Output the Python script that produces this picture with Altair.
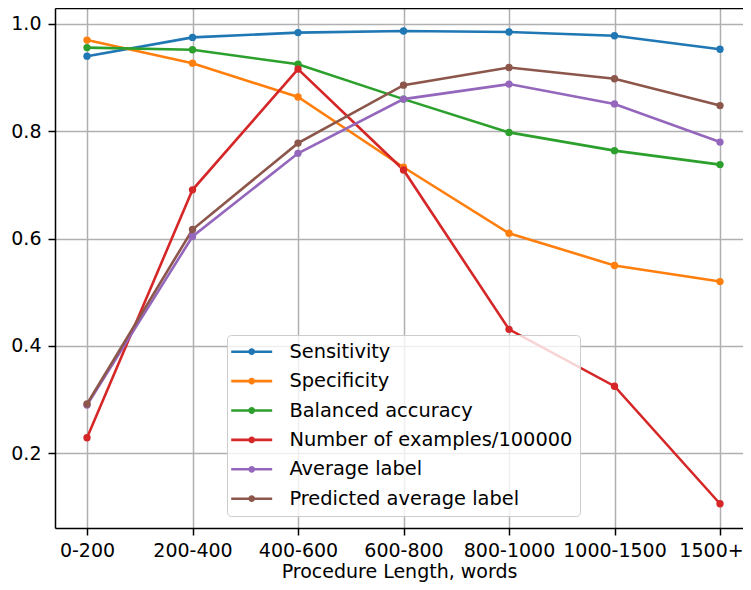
import altair as alt
import pandas as pd

categories = ["0-200", "200-400", "400-600", "600-800", "800-1000", "1000-1500", "1500+"]
series_names = [
    "Sensitivity",
    "Specificity",
    "Balanced accuracy",
    "Number of examples/100000",
    "Average label",
    "Predicted average label",
]
colors = ["#1f77b4", "#ff7f0e", "#2ca02c", "#d62728", "#9467bd", "#8c564b"]

sensitivity = [0.940, 0.975, 0.984, 0.987, 0.985, 0.978, 0.953]
specificity = [0.970, 0.927, 0.864, 0.733, 0.610, 0.550, 0.520]
balanced_accuracy = [0.956, 0.952, 0.925, 0.860, 0.798, 0.764, 0.738]
examples_scaled = [0.229, 0.691, 0.916, 0.728, 0.431, 0.325, 0.106]
average_label = [0.290, 0.604, 0.759, 0.860, 0.888, 0.851, 0.780]
predicted_average_label = [0.292, 0.617, 0.778, 0.886, 0.919, 0.898, 0.848]

all_series = [sensitivity, specificity, balanced_accuracy, examples_scaled,
              average_label, predicted_average_label]

rows = []
for name, vals in zip(series_names, all_series):
    for cat, v in zip(categories, vals):
        rows.append({"length": cat, "series": name, "value": v})
df = pd.DataFrame(rows)

# legend glyph: short line with a dot in the middle (unit = sqrt(size)/2 px)
legend_symbol = ("M-2.56,0H2.56"
                 "M0.26,0A0.26,0.26,0,1,1,-0.26,0A0.26,0.26,0,1,1,0.26,0"
                 "M0.1,0A0.1,0.1,0,1,1,-0.1,0A0.1,0.1,0,1,1,0.1,0")

FONT = "DejaVu Sans"

x_scale = alt.Scale(type="point", padding=0.2607, align=0.582)
y_scale = alt.Scale(domain=[0.0608, 1.0298], nice=False, zero=False)
y_axis = alt.Axis(title=None, values=[0.2, 0.4, 0.6, 0.8, 1.0], format=".1f",
                  labelPadding=7, domain=True)

lines = alt.Chart(df).mark_line(
    strokeWidth=2.6,
    point=alt.OverlayMarkDef(filled=True, size=54, opacity=1),
).encode(
    x=alt.X(
        "length:N",
        sort=categories,
        scale=x_scale,
        axis=alt.Axis(
            title="Procedure Length, words", labelAngle=0,
            labelPadding=6, titlePadding=2, domain=True,
            labelOffset={"condition": {"test": "datum.value == '1500+'", "value": -9},
                         "value": 0},
        ),
    ),
    y=alt.Y("value:Q", scale=y_scale, axis=y_axis),
    color=alt.Color(
        "series:N",
        sort=series_names,
        scale=alt.Scale(domain=series_names, range=colors),
        legend=alt.Legend(
            title=None,
            orient="none",
            legendX=172,
            legendY=327,
            direction="vertical",
            symbolType=legend_symbol,
            symbolSize=256,
            symbolStrokeWidth=2.6,
            symbolOpacity=1,
            symbolOffset=8,
            labelFont=FONT,
            labelFontSize=19.4,
            labelColor="black",
            labelOffset=28,
            labelLimit=500,
            padding=7,
            rowPadding=8.4,
            fillColor="rgba(255,255,255,0.8)",
            strokeColor="#cccccc",
            cornerRadius=4,
        ),
    ),
)

top_spine = alt.Chart(df).mark_point(opacity=0).encode(
    x=alt.X(
        "length:N",
        sort=categories,
        scale=x_scale,
        axis=alt.Axis(orient="top", labels=False, ticks=False, grid=False,
                      title=None, domain=True),
    ),
    y=alt.Y("value:Q", scale=y_scale, axis=y_axis),
)

chart = alt.layer(lines, top_spine).resolve_axis(x="independent").properties(
    width=688,
    height=520,
    autosize=alt.AutoSizeParams(type="none"),
    padding={"left": 47, "top": 0, "right": 0, "bottom": 54},
    background="white",
).configure_view(
    stroke=None,
).configure_axis(
    domainColor="black",
    domainWidth=1.5,
    grid=True,
    gridColor="#b0b0b0",
    gridWidth=1.5,
    tickColor="black",
    tickWidth=1.5,
    tickSize=7,
    labelFont=FONT,
    labelFontSize=19,
    labelColor="black",
    titleFont=FONT,
    titleFontSize=19,
    titleFontWeight="normal",
    titleColor="black",
)

chart.save("out.html", embed_options={"renderer": "svg", "actions": False})
